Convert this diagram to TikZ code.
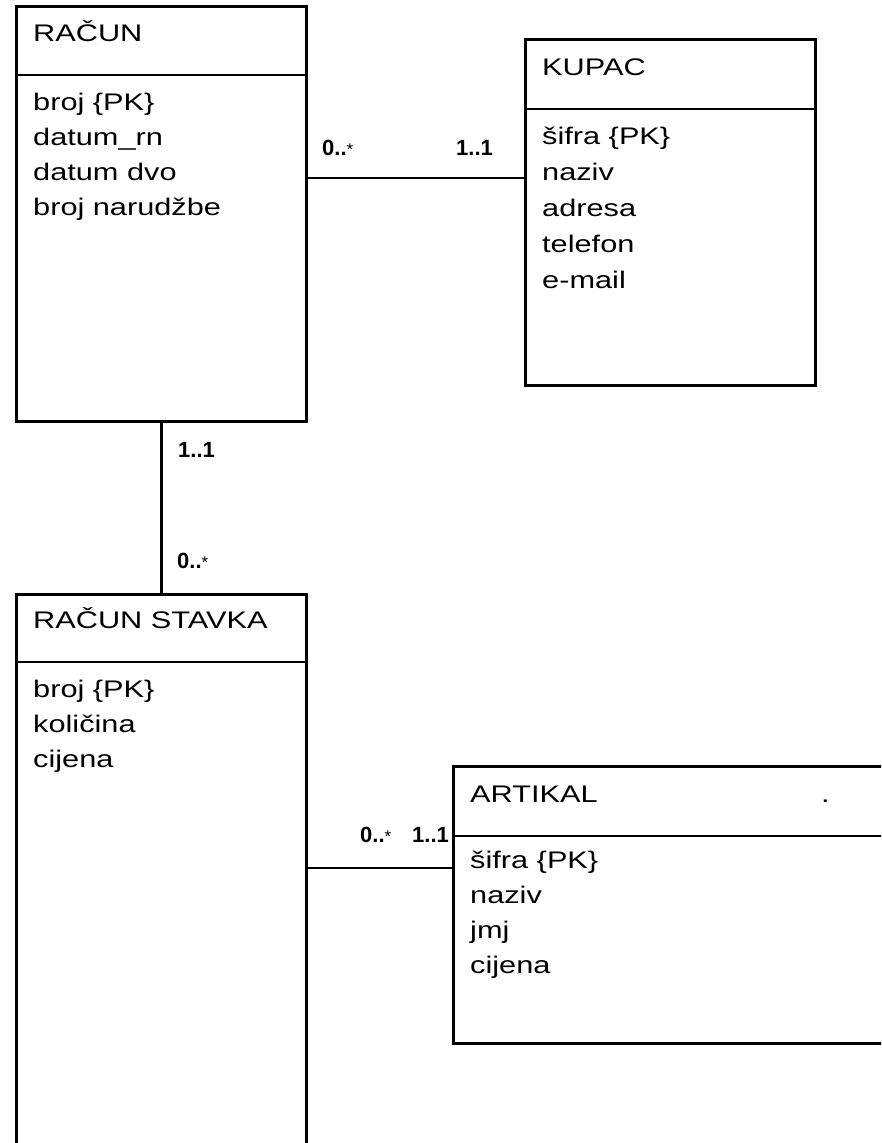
\documentclass[tikz,border=0pt]{standalone}
\usepackage{fontspec}
\setmainfont{Liberation Sans}[FakeStretch=1.28]
\newfontfamily\multfont{Liberation Sans}
\usepackage{tikz}
\usetikzlibrary{
  positioning,
  calc
}
\newcommand{\zeromany}{0..{\mdseries\fontsize{17}{17}\selectfont *}}
\tikzset{
  classbox/.style={
    draw,
    line width=2.5pt,
    anchor=north west,
    minimum width=290pt,
    inner sep=0pt
  },
  classname/.style={anchor=base west,inner sep=0pt,font=\fontsize{24}{24}\selectfont},
  attrtext/.style={anchor=base west,inner sep=0pt,font=\fontsize{24}{24}\selectfont},
  multlabel/.style={anchor=base west,inner sep=0pt,font=\multfont\bfseries\fontsize{22}{22}\selectfont},
  dividerline/.style={line width=2.5pt},
  assocline/.style={line width=2.5pt},
}

\begin{document}
\begin{tikzpicture}[x=1pt,y=-1pt]
  \clip (0,0) rectangle (881,1143);

  % RACUN
  \node[classbox,minimum height=415pt] (racun) at (15,5) {};
  \node[classname] (racunName) at (33,41) {RAČUN};
  \draw[dividerline] ($(racun.north west)+(0,70)$) -- ($(racun.north east)+(0,70)$);
  \node[attrtext] (racunA) at (33,110) {broj \{PK\}};
  \node[attrtext] (racunB) at (33,145) {datum\_rn};
  \node[attrtext] (racunC) at (33,180) {datum dvo};
  \node[attrtext] (racunD) at (33,215) {broj narudžbe};

  % KUPAC
  \node[classbox,minimum height=346pt] (kupac) at (524,38) {};
  \node[classname] (kupacName) at (542,75) {KUPAC};
  \draw[dividerline] ($(kupac.north west)+(0,71)$) -- ($(kupac.north east)+(0,71)$);
  \node[attrtext] (kupacA) at (542,144) {šifra \{PK\}};
  \node[attrtext] (kupacB) at (542,180) {naziv};
  \node[attrtext] (kupacC) at (542,216) {adresa};
  \node[attrtext] (kupacD) at (542,252) {telefon};
  \node[attrtext] (kupacE) at (542,288) {e-mail};

  % RACUN STAVKA
  \node[classbox,minimum height=620pt] (stavka) at (15,593) {};
  \node[classname] (stavkaName) at (33,628) {RAČUN STAVKA};
  \draw[dividerline] ($(stavka.north west)+(0,69)$) -- ($(stavka.north east)+(0,69)$);
  \node[attrtext] (stavkaA) at (33,697) {broj \{PK\}};
  \node[attrtext] (stavkaB) at (33,732) {količina};
  \node[attrtext] (stavkaC) at (33,767) {cijena};

  % ARTIKAL
  \node[classbox,minimum width=500pt,minimum height=277pt] (artikal) at (452,765) {};
  \node[classname] (artikalName) at (470,802) {ARTIKAL};
  \node[classname] (artikalDot) at (821,802) {.};
  \draw[dividerline] ($(artikal.north west)+(0,71)$) -- ($(artikal.north east)+(0,71)$);
  \node[attrtext] (artikalA) at (470,868) {šifra \{PK\}};
  \node[attrtext] (artikalB) at (470,903) {naziv};
  \node[attrtext] (artikalC) at (470,938) {jmj};
  \node[attrtext] (artikalD) at (470,973) {cijena};

  % Associations
  \coordinate (rkLevel) at (0,178);
  \draw[assocline] (racun.east |- rkLevel) -- (kupac.west |- rkLevel);
  \node[multlabel] (rkMany) at (322,155) {\zeromany};
  \node[multlabel] (rkOne) at (456,155) {1..1};

  \draw[assocline] (racun.south) -- (stavka.north);
  \node[multlabel] (rsOne) at (178,457) {1..1};
  \node[multlabel] (rsMany) at (177,568) {\zeromany};

  \coordinate (saLevel) at (0,868);
  \draw[assocline] (stavka.east |- saLevel) -- (artikal.west |- saLevel);
  \node[multlabel] (saMany) at (360,842) {\zeromany};
  \node[multlabel] (saOne) at (412,842) {1..1};
\end{tikzpicture}
\end{document}
